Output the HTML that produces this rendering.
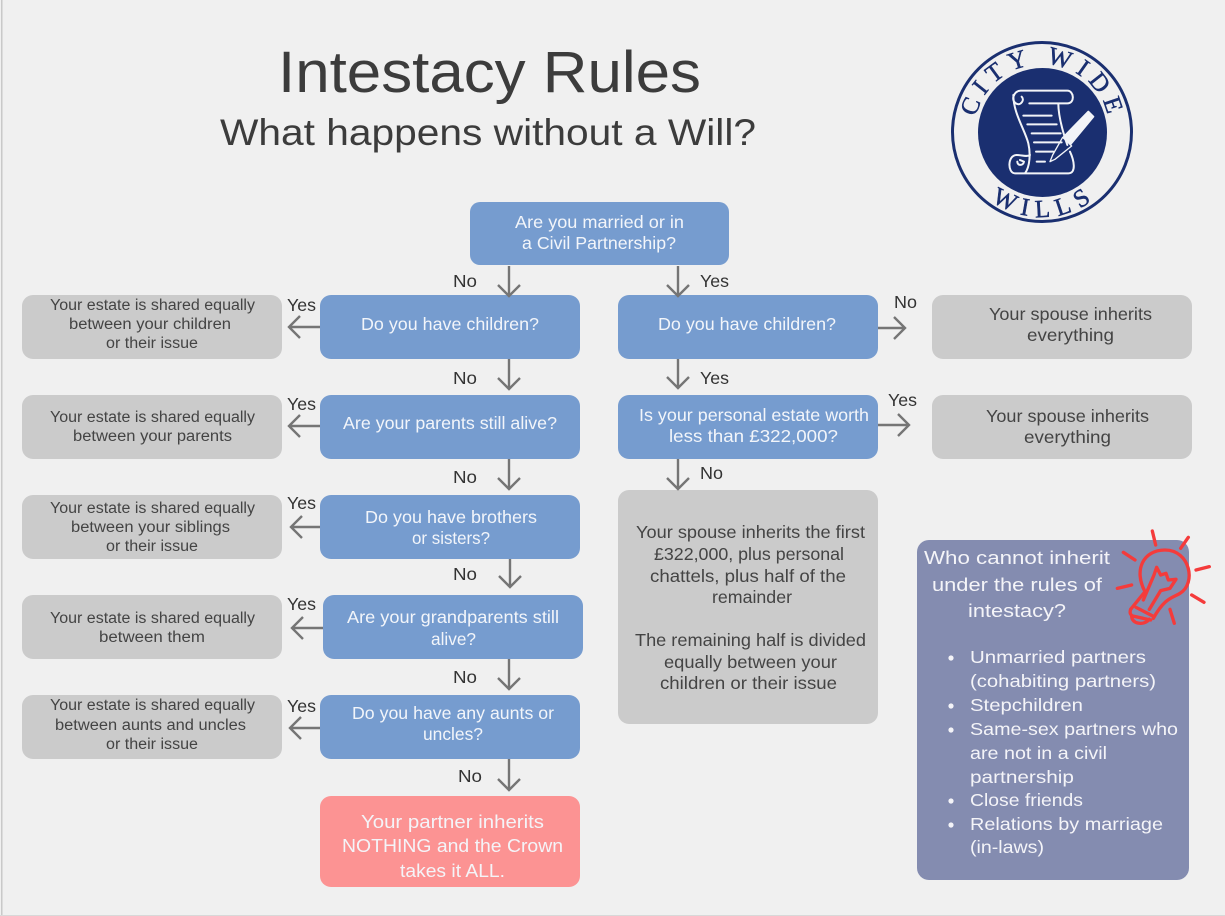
<!DOCTYPE html>
<html><head><meta charset="utf-8"><title>Intestacy Rules</title>
<style>
html,body{margin:0;padding:0;background:#f0f0f0}
svg{display:block;font-family:"Liberation Sans",sans-serif}
.h{fill:#3c3c3c}
.b{fill:#f2f5fa;font-size:17.5px}
.g{fill:#444;font-size:17.5px}
.s{fill:#444;font-size:15.5px}
.l{fill:#333;font-size:17.5px}
.w{fill:#f4f4f8;font-size:18.5px}
.p{fill:#f4f4f8;font-size:17.5px}
.a path{fill:none;stroke:#757575;stroke-width:2.4}
</style></head><body>
<svg width="1225" height="916" viewBox="0 0 1225 916" xmlns="http://www.w3.org/2000/svg">
<rect width="1225" height="916" fill="#f0f0f0"/>
<rect x="1" y="0" width="1.5" height="916" fill="#c9c9c9"/>
<rect x="0" y="915" width="1225" height="1" fill="#d8d8d8"/>

<text class="h" x="278" y="92" font-size="58" textLength="423" lengthAdjust="spacingAndGlyphs">Intestacy Rules</text>
<text class="h" x="220" y="145" font-size="37" textLength="536" lengthAdjust="spacingAndGlyphs">What happens without a Will?</text>

<!-- logo -->
<circle cx="1042" cy="132" r="89.5" fill="none" stroke="#1a2f70" stroke-width="3"/>
<circle cx="1042.5" cy="132.5" r="64.5" fill="#1a2f70"/>
<defs>
<path id="arcT" d="M975.5 118 A68 68 0 0 1 1108.5 118"/>
<path id="arcB" d="M972.4 180.8 A85 85 0 0 0 1111.6 180.8"/>
</defs>
<text font-family="Liberation Serif" font-weight="400" font-size="25" fill="#1a2f70" stroke="#1a2f70" stroke-width=".5" letter-spacing="6.5" text-anchor="middle"><textPath href="#arcT" startOffset="51%">CITY WIDE</textPath></text>
<text font-family="Liberation Serif" font-weight="400" font-size="25" fill="#1a2f70" stroke="#1a2f70" stroke-width=".5" letter-spacing="7.5" text-anchor="middle"><textPath href="#arcB" startOffset="52%">WILLS</textPath></text>
<g transform="translate(930 20) scale(.3333)" fill="none" stroke="#f2f4f8" stroke-width="6" stroke-linecap="round" stroke-linejoin="round">
<path d="M272 212H412C432 212 436 250 412 250H298M272 212C250 212 240 245 262 252C272 256 285 240 275 230M250 225C250 280 285 330 295 370C302 400 300 440 285 460M385 250C385 290 400 340 412 375M420 395C432 420 440 460 415 460H255C232 460 232 405 260 405C275 405 290 412 300 405M262 425C262 438 280 438 282 425L270 420"/>
<path d="M280 287H365M292 313H380M305 340H392M312 367H395M318 395H370M320 425H345"/>
<path d="M402 350L475 275L490 290L422 372Z" fill="#f2f4f8"/>
<path d="M398 352L425 378L375 418L360 425L368 405Z" stroke-width="4"/>
</g>

<!-- blue boxes -->
<g fill="#769ccf">
<rect x="470" y="202" width="259" height="63" rx="10"/>
<rect x="320" y="295" width="260" height="64" rx="11"/>
<rect x="320" y="395" width="260" height="64" rx="11"/>
<rect x="320" y="495" width="260" height="64" rx="11"/>
<rect x="323" y="595" width="260" height="64" rx="11"/>
<rect x="320" y="695" width="260" height="64" rx="11"/>
<rect x="618" y="295" width="260" height="64" rx="11"/>
<rect x="618" y="395" width="260" height="64" rx="11"/>
</g>
<rect x="320" y="796" width="260" height="91" rx="11" fill="#fc9393"/>
<!-- grey boxes -->
<g fill="#cbcbcb">
<rect x="22" y="295" width="260" height="64" rx="11"/>
<rect x="22" y="395" width="260" height="64" rx="11"/>
<rect x="22" y="495" width="260" height="64" rx="11"/>
<rect x="22" y="595" width="260" height="64" rx="11"/>
<rect x="22" y="695" width="260" height="64" rx="11"/>
<rect x="932" y="295" width="260" height="64" rx="11"/>
<rect x="932" y="395" width="260" height="64" rx="11"/>
<rect x="618" y="490" width="260" height="234" rx="11"/>
</g>
<rect x="917" y="540" width="272" height="340" rx="12" fill="#848cb0"/>

<!-- arrows -->
<g class="a">
<path d="M509 266V296M498 285L509 296L520 285"/>
<path d="M509 359V389M498 378L509 389L520 378"/>
<path d="M509 459V489M498 478L509 489L520 478"/>
<path d="M510 559V587M499 576L510 587L521 576"/>
<path d="M509 659V689M498 678L509 689L520 678"/>
<path d="M509 759V790M498 779L509 790L520 779"/>
<path d="M678 266V296M667 285L678 296L689 285"/>
<path d="M678 359V388M667 377L678 388L689 377"/>
<path d="M678 459V489M667 478L678 489L689 478"/>
<path d="M320 327H290M300 316L289 327L300 338"/>
<path d="M320 426H290M300 415L289 426L300 437"/>
<path d="M320 527H291M302 516L291 527L302 538"/>
<path d="M323 628H292M303 617L292 628L303 639"/>
<path d="M320 728H290M301 717L290 728L301 739"/>
<path d="M878 328H905M894 317L905 328L894 339"/>
<path d="M878 425H909M898 414L909 425L898 436"/>
</g>

<!-- blue text -->
<g>
<text class="b" x="515" y="228" textLength="169" lengthAdjust="spacingAndGlyphs">Are you married or in</text>
<text class="b" x="522" y="249" textLength="154" lengthAdjust="spacingAndGlyphs">a Civil Partnership?</text>
<text class="b" x="361" y="330" textLength="178" lengthAdjust="spacingAndGlyphs">Do you have children?</text>
<text class="b" x="343" y="429" textLength="214" lengthAdjust="spacingAndGlyphs">Are your parents still alive?</text>
<text class="b" x="365" y="523" textLength="172" lengthAdjust="spacingAndGlyphs">Do you have brothers</text>
<text class="b" x="412" y="544" textLength="78" lengthAdjust="spacingAndGlyphs">or sisters?</text>
<text class="b" x="347" y="623" textLength="212" lengthAdjust="spacingAndGlyphs">Are your grandparents still</text>
<text class="b" x="431" y="645" textLength="45" lengthAdjust="spacingAndGlyphs">alive?</text>
<text class="b" x="352" y="719" textLength="202" lengthAdjust="spacingAndGlyphs">Do you have any aunts or</text>
<text class="b" x="423" y="740" textLength="60" lengthAdjust="spacingAndGlyphs">uncles?</text>
<text class="b" x="658" y="330" textLength="178" lengthAdjust="spacingAndGlyphs">Do you have children?</text>
<text class="b" x="639" y="421" textLength="230" lengthAdjust="spacingAndGlyphs">Is your personal estate worth</text>
<text class="b" x="669" y="442" textLength="169" lengthAdjust="spacingAndGlyphs">less than £322,000?</text>
<text class="w" x="361" y="828" textLength="183" lengthAdjust="spacingAndGlyphs">Your partner inherits</text>
<text class="w" x="342" y="852" textLength="221" lengthAdjust="spacingAndGlyphs">NOTHING and the Crown</text>
<text class="w" x="400" y="877" textLength="105" lengthAdjust="spacingAndGlyphs">takes it ALL.</text>

<!-- right grey text -->
<text class="g" x="989" y="320" textLength="163" lengthAdjust="spacingAndGlyphs">Your spouse inherits</text>
<text class="g" x="1027" y="341" textLength="87" lengthAdjust="spacingAndGlyphs">everything</text>
<text class="g" x="986" y="422" textLength="163" lengthAdjust="spacingAndGlyphs">Your spouse inherits</text>
<text class="g" x="1024" y="443" textLength="87" lengthAdjust="spacingAndGlyphs">everything</text>
<text class="g" x="636" y="538" textLength="229" lengthAdjust="spacingAndGlyphs">Your spouse inherits the first</text>
<text class="g" x="654" y="560" textLength="190" lengthAdjust="spacingAndGlyphs">£322,000, plus personal</text>
<text class="g" x="650" y="582" textLength="196" lengthAdjust="spacingAndGlyphs">chattels, plus half of the</text>
<text class="g" x="712" y="603" textLength="80" lengthAdjust="spacingAndGlyphs">remainder</text>
<text class="g" x="635" y="646" textLength="231" lengthAdjust="spacingAndGlyphs">The remaining half is divided</text>
<text class="g" x="664" y="668" textLength="173" lengthAdjust="spacingAndGlyphs">equally between your</text>
<text class="g" x="660" y="689" textLength="177" lengthAdjust="spacingAndGlyphs">children or their issue</text>

<!-- left grey text -->
<text class="s" x="50" y="310" textLength="205" lengthAdjust="spacingAndGlyphs">Your estate is shared equally</text>
<text class="s" x="69" y="329" textLength="162" lengthAdjust="spacingAndGlyphs">between your children</text>
<text class="s" x="106" y="348" textLength="92" lengthAdjust="spacingAndGlyphs">or their issue</text>
<text class="s" x="50" y="422" textLength="205" lengthAdjust="spacingAndGlyphs">Your estate is shared equally</text>
<text class="s" x="73" y="441" textLength="159" lengthAdjust="spacingAndGlyphs">between your parents</text>
<text class="s" x="50" y="513" textLength="205" lengthAdjust="spacingAndGlyphs">Your estate is shared equally</text>
<text class="s" x="71" y="532" textLength="159" lengthAdjust="spacingAndGlyphs">between your siblings</text>
<text class="s" x="106" y="551" textLength="92" lengthAdjust="spacingAndGlyphs">or their issue</text>
<text class="s" x="50" y="623" textLength="205" lengthAdjust="spacingAndGlyphs">Your estate is shared equally</text>
<text class="s" x="99" y="642" textLength="106" lengthAdjust="spacingAndGlyphs">between them</text>
<text class="s" x="50" y="710" textLength="205" lengthAdjust="spacingAndGlyphs">Your estate is shared equally</text>
<text class="s" x="55" y="730" textLength="191" lengthAdjust="spacingAndGlyphs">between aunts and uncles</text>
<text class="s" x="106" y="749" textLength="92" lengthAdjust="spacingAndGlyphs">or their issue</text>

<!-- labels -->
<text class="l" x="453" y="287" textLength="24" lengthAdjust="spacingAndGlyphs">No</text>
<text class="l" x="700" y="287" textLength="29" lengthAdjust="spacingAndGlyphs">Yes</text>
<text class="l" x="287" y="311" textLength="29" lengthAdjust="spacingAndGlyphs">Yes</text>
<text class="l" x="453" y="384" textLength="24" lengthAdjust="spacingAndGlyphs">No</text>
<text class="l" x="700" y="384" textLength="29" lengthAdjust="spacingAndGlyphs">Yes</text>
<text class="l" x="894" y="308" textLength="23" lengthAdjust="spacingAndGlyphs">No</text>
<text class="l" x="888" y="406" textLength="29" lengthAdjust="spacingAndGlyphs">Yes</text>
<text class="l" x="287" y="410" textLength="29" lengthAdjust="spacingAndGlyphs">Yes</text>
<text class="l" x="453" y="483" textLength="24" lengthAdjust="spacingAndGlyphs">No</text>
<text class="l" x="700" y="479" textLength="23" lengthAdjust="spacingAndGlyphs">No</text>
<text class="l" x="287" y="509" textLength="29" lengthAdjust="spacingAndGlyphs">Yes</text>
<text class="l" x="453" y="580" textLength="24" lengthAdjust="spacingAndGlyphs">No</text>
<text class="l" x="287" y="610" textLength="29" lengthAdjust="spacingAndGlyphs">Yes</text>
<text class="l" x="453" y="683" textLength="24" lengthAdjust="spacingAndGlyphs">No</text>
<text class="l" x="287" y="712" textLength="29" lengthAdjust="spacingAndGlyphs">Yes</text>
<text class="l" x="458" y="782" textLength="24" lengthAdjust="spacingAndGlyphs">No</text>

<!-- purple panel -->
<text class="w" x="924" y="564" font-size="19" textLength="186" lengthAdjust="spacingAndGlyphs">Who cannot inherit</text>
<text class="w" x="932" y="591" textLength="170" lengthAdjust="spacingAndGlyphs">under the rules of</text>
<text class="w" x="968" y="617" textLength="98" lengthAdjust="spacingAndGlyphs">intestacy?</text>
<text class="p" x="970" y="663" textLength="176" lengthAdjust="spacingAndGlyphs">Unmarried partners</text>
<text class="p" x="970" y="687" textLength="186" lengthAdjust="spacingAndGlyphs">(cohabiting partners)</text>
<text class="p" x="970" y="711" textLength="113" lengthAdjust="spacingAndGlyphs">Stepchildren</text>
<text class="p" x="970" y="735" textLength="208" lengthAdjust="spacingAndGlyphs">Same-sex partners who</text>
<text class="p" x="970" y="759" textLength="137" lengthAdjust="spacingAndGlyphs">are not in a civil</text>
<text class="p" x="970" y="783" textLength="104" lengthAdjust="spacingAndGlyphs">partnership</text>
<text class="p" x="970" y="806" textLength="113" lengthAdjust="spacingAndGlyphs">Close friends</text>
<text class="p" x="970" y="830" textLength="193" lengthAdjust="spacingAndGlyphs">Relations by marriage</text>
<text class="p" x="970" y="853" textLength="74" lengthAdjust="spacingAndGlyphs">(in-laws)</text>
</g>
<g fill="#f4f4f8">
<circle cx="951" cy="658" r="2.6"/><circle cx="951" cy="706" r="2.6"/><circle cx="951" cy="730" r="2.6"/><circle cx="951" cy="801" r="2.6"/><circle cx="951" cy="825" r="2.6"/>
</g>

<!-- bulb -->
<g transform="translate(1090 520) scale(.3333)" fill="none" stroke="#f43b3b" stroke-width="10" stroke-linecap="round" stroke-linejoin="round">
<path d="M187 33L197 75M295 52L272 85M358 140L318 150M305 225L342 247M240 268L253 310M100 97L135 120M82 205L125 195" stroke-width="10"/>
<path d="M122 268L165 215C130 150 160 90 225 90C300 90 320 190 270 220C248 234 225 232 190 295"/>
<path d="M160 240L192 165L200 142L212 165L228 160L235 180L258 178L240 205L212 212L178 268"/>
<path d="M122 268C118 280 122 285 128 288L182 300M138 262L192 290M125 288C125 312 160 318 178 298"/>
</g>
</svg>
</body></html>
